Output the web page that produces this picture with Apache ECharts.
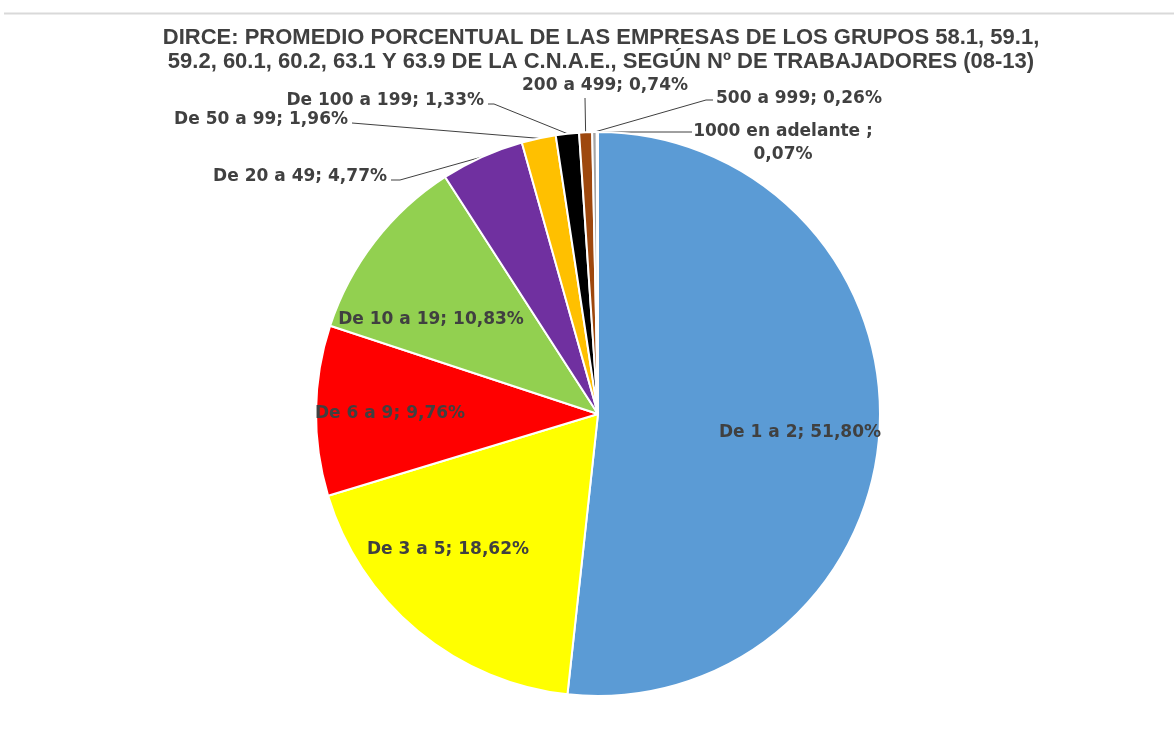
<!DOCTYPE html>
<html>
<head>
<meta charset="utf-8">
<script src="https://cdn.jsdelivr.net/npm/echarts@6/dist/echarts.min.js"></script>
<style>
  html, body { margin: 0; padding: 0; background: #ffffff; }
  #chart { width: 1174px; height: 744px; }
</style>
</head>
<body>
<div id="chart"></div>
<script>
// data
const categories = ["De 1 a 2", "De 3 a 5", "De 6 a 9", "De 10 a 19", "De 20 a 49", "De 50 a 99", "De 100 a 199", "200 a 499", "500 a 999", "1000 en adelante "];
const values = [51.80, 18.62, 9.76, 10.83, 4.77, 1.96, 1.33, 0.74, 0.26, 0.07];
const colors = ["#5B9BD5", "#FFFF00", "#FF0000", "#92D050", "#7030A0", "#FFC000", "#000000", "#9E480E", "#A5A5A5", "#264478"];
const insideLabels = [0, 1, 2, 3];

const center = [598, 414];
const radius = 282;

// where each label sits (x, y, align) and where its leader line meets it
const labelPos = [
  [800, 433, "center"],
  [448, 550, "center"],
  [390, 414, "center"],
  [431, 320, "center"],
  [387, 177, "right"],
  [348, 120, "right"],
  [484, 101, "right"],
  [605, 86, "center"],
  [716, 99, "left"],
  [783, 143, "center"],
];
const lineEnds = [
  null, null, null, null,
  [[400, 180], [391, 180]],
  [[352, 123]],
  [[494, 104], [488, 104]],
  [[585, 98]],
  [[706, 100], [713, 100]],
  [[692, 132]],
];

const total = values.reduce((a, b) => a + b, 0);
const midAngles = [];
let acc = 0;
values.forEach((v) => {
  midAngles.push(((acc + v / 2) / total) * Math.PI * 2);
  acc += v;
});

function fmt(v) {
  return v.toFixed(2).replace(".", ",") + "%";
}

let myChart = echarts.init(document.getElementById("chart"));

let option = {
  backgroundColor: "#ffffff",
  title: {
    text: "DIRCE: PROMEDIO PORCENTUAL DE LAS EMPRESAS DE LOS GRUPOS 58.1, 59.1,\n59.2, 60.1, 60.2, 63.1 Y 63.9 DE LA C.N.A.E., SEGÚN Nº DE TRABAJADORES (08-13)",
    left: 596,
    top: 21,
    textAlign: "center",
    textStyle: {
      fontFamily: "Liberation Sans",
      fontWeight: "bold",
      fontSize: 22,
      lineHeight: 24,
      color: "#404040",
    },
  },
  graphic: [
    {
      type: "line",
      shape: { x1: 4, y1: 13.5, x2: 1174, y2: 13.5 },
      style: { stroke: "#d9d9d9", lineWidth: 2 },
    },
  ],
  series: [
    {
      type: "pie",
      center: center,
      radius: radius,
      startAngle: 90,
      clockwise: true,
      avoidLabelOverlap: false,
      animation: false,
      itemStyle: {
        borderColor: "#ffffff",
        borderWidth: 2,
      },
      label: {
        show: true,
        position: "outside",
        fontFamily: "DejaVu Sans",
        fontWeight: "bold",
        fontSize: 17,
        lineHeight: 23,
        color: "#404040",
        formatter: (p) => {
          if (p.dataIndex === 9) return p.name + ";\n" + fmt(p.value);
          return p.name + "; " + fmt(p.value);
        },
      },
      labelLine: {
        show: true,
        length: 10,
        length2: 10,
        lineStyle: { color: "#404040", width: 1 },
      },
      labelLayout: (params) => {
        const i = params.dataIndex;
        const pos = labelPos[i];
        const out = {
          x: pos[0],
          y: pos[1],
          align: pos[2],
          verticalAlign: "middle",
        };
        if (lineEnds[i]) {
          const a = midAngles[i];
          const start = [center[0] + radius * Math.sin(a), center[1] - radius * Math.cos(a)];
          out.labelLinePoints = [start].concat(lineEnds[i]);
        }
        return out;
      },
      data: values.map((v, i) => ({
        name: categories[i],
        value: v,
        itemStyle: { color: colors[i] },
        label: insideLabels.includes(i) ? { position: "inside" } : {},
        labelLine: { show: !insideLabels.includes(i) },
      })),
    },
  ],
};

myChart.setOption(option);
</script>
</body>
</html>
